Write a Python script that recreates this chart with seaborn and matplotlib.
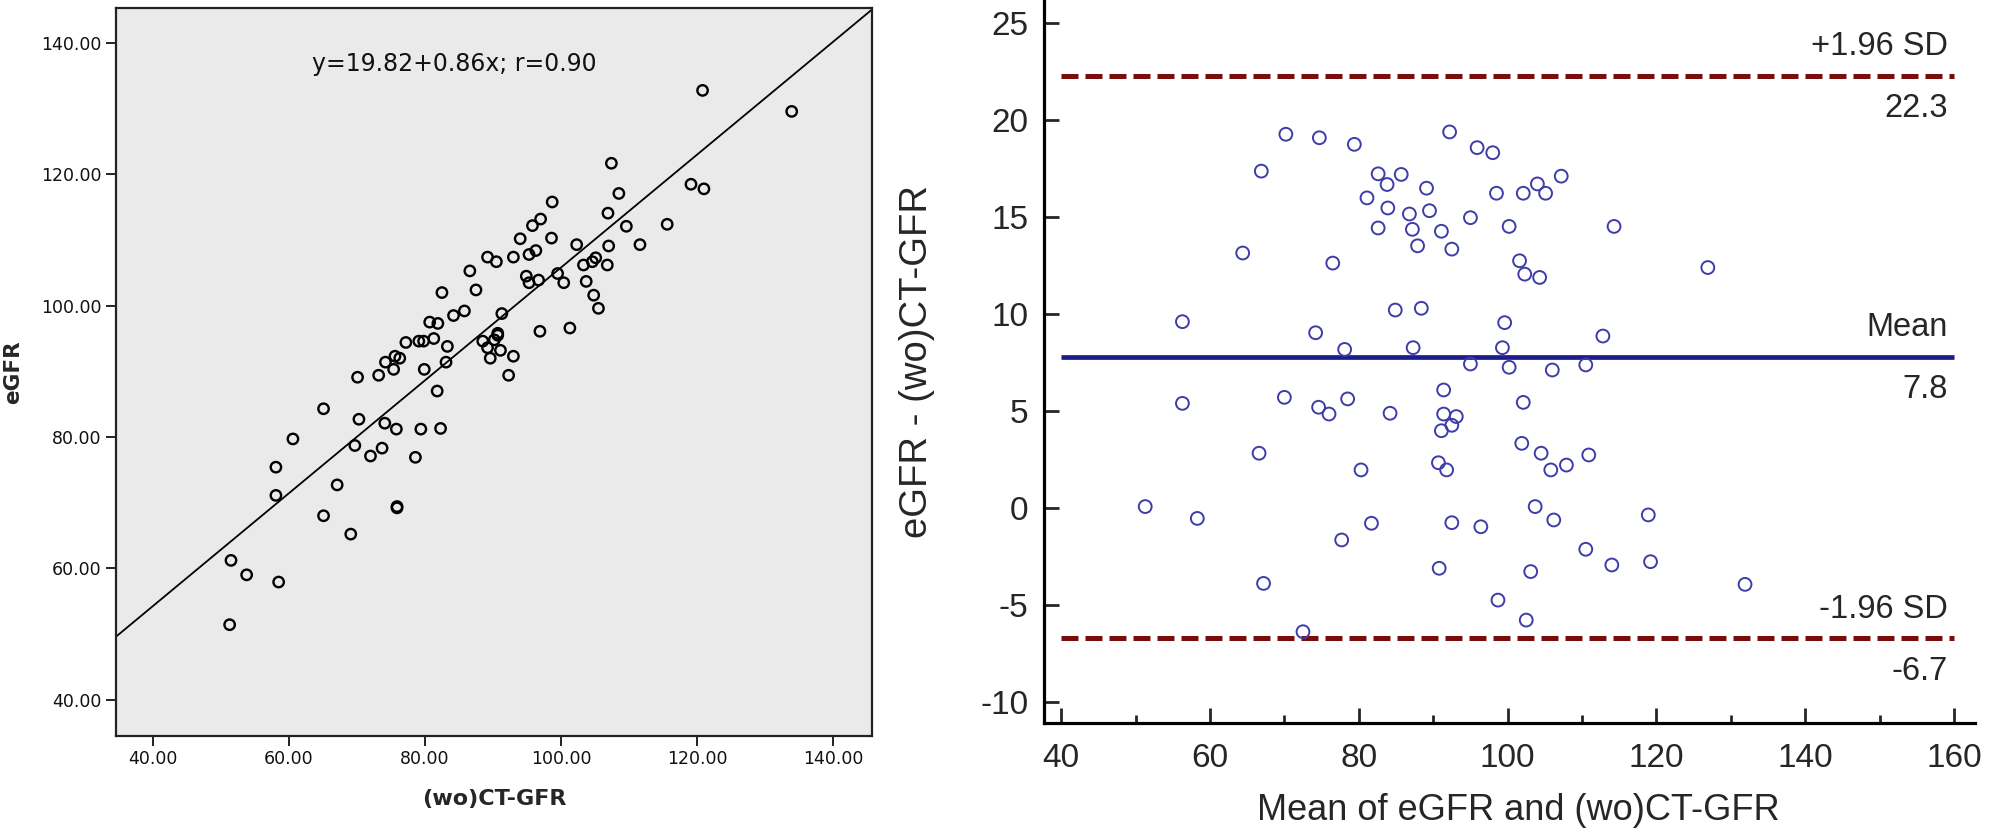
import numpy as np
import matplotlib
matplotlib.use("Agg")
import matplotlib.pyplot as plt
from matplotlib.ticker import FormatStrFormatter, MultipleLocator
import seaborn as sns

# left panel: (wo)CT-GFR vs eGFR
ct_gfr = [120.8, 133.9, 107.4, 119.1, 121.0, 108.5, 98.7, 106.9, 97.0, 95.8,
          115.6, 109.6, 94.0, 98.6, 102.3, 111.6, 107.0, 96.3, 95.3, 93.0,
          89.2, 90.5, 105.1, 104.6, 103.3, 106.8, 86.6, 99.5, 94.9, 103.7,
          95.3, 96.7, 100.4, 87.5, 82.5, 104.8, 105.5, 85.8, 84.2, 91.3,
          80.7, 81.9, 96.9, 101.3, 77.2, 79.1, 79.8, 81.3, 90.7, 90.7,
          88.5, 90.2, 83.3, 89.2, 91.1, 93.0, 75.6, 76.3, 74.2, 89.6,
          83.1, 75.4, 79.9, 73.2, 70.1, 92.3, 81.8,
          51.3, 51.5, 53.8, 58.5, 58.1, 58.1, 60.6, 65.1, 65.1, 67.1,
          69.1, 69.7, 70.3, 72.0, 73.7, 74.1, 75.8, 75.9, 75.9, 78.6,
          79.4, 82.3]
egfr = [132.8, 129.6, 121.7, 118.5, 117.8, 117.1, 115.8, 114.1, 113.2, 112.2,
        112.4, 112.1, 110.2, 110.3, 109.3, 109.3, 109.1, 108.4, 107.8, 107.4,
        107.4, 106.7, 107.3, 106.7, 106.2, 106.2, 105.3, 104.9, 104.5, 103.7,
        103.5, 103.9, 103.5, 102.4, 102.0, 101.6, 99.6, 99.2, 98.5, 98.8,
        97.5, 97.3, 96.1, 96.6, 94.4, 94.6, 94.6, 95.0, 95.8, 95.5,
        94.6, 94.8, 93.8, 93.6, 93.2, 92.3, 92.3, 92.0, 91.4, 92.0,
        91.4, 90.3, 90.3, 89.4, 89.1, 89.4, 87.0,
        51.4, 61.2, 59.0, 57.9, 71.1, 75.4, 79.7, 84.3, 68.0, 72.7,
        65.2, 78.7, 82.7, 77.1, 78.3, 82.1, 81.2, 69.4, 69.2, 76.9,
        81.2, 81.3]
intercept = 19.82
slope = 0.86
fit_text = "y=19.82+0.86x; r=0.90"

# right panel: Bland-Altman
ba_mean = [70.2, 74.7, 79.4, 92.2, 95.9, 98.0, 66.9, 82.6, 85.7, 83.8,
           89.1, 81.1, 83.9, 86.8, 89.5, 82.6, 87.2, 91.1, 87.9, 92.5,
           95.0, 98.5, 100.2, 102.1, 104.0, 105.1, 107.2, 114.3, 64.4, 76.5,
           101.6, 102.3, 104.3, 126.9, 56.3, 84.9, 88.4, 99.6, 74.2, 112.8,
           78.1, 87.3, 99.3,
           51.3, 56.3, 58.3, 66.6, 67.2, 70.0, 72.5, 74.6, 76.0, 77.7,
           78.5, 80.3, 81.7, 84.2, 90.7, 90.8, 91.1, 91.4, 91.4, 91.8,
           92.5, 93.1, 92.5, 95.0, 96.4, 98.7, 100.2, 101.9, 102.1, 102.5,
           103.1, 103.7, 104.5, 105.8, 106.0, 106.2, 107.9, 110.5, 110.5, 110.9,
           114.0, 118.9, 119.2, 131.9]
ba_diff = [19.28, 19.10, 18.76, 19.40, 18.59, 18.33, 17.38, 17.24, 17.21, 16.69,
           16.50, 16.00, 15.48, 15.17, 15.34, 14.45, 14.38, 14.28, 13.53, 13.36,
           14.98, 16.24, 14.53, 16.24, 16.72, 16.24, 17.12, 14.53, 13.16, 12.64,
           12.76, 12.07, 11.90, 12.41, 9.62, 10.22, 10.31, 9.57, 9.05, 8.88,
           8.19, 8.28, 8.28,
           0.09, 5.41, -0.52, 2.84, -3.87, 5.72, -6.36, 5.21, 4.86, -1.63,
           5.64, 1.98, -0.77, 4.90, 2.35, -3.09, 4.0, 6.1, 4.86, 1.98,
           4.28, 4.73, -0.74, 7.44, -0.95, -4.73, 7.27, 3.35, 5.46, -5.76,
           -3.26, 0.09, 2.84, 1.98, 7.13, -0.60, 2.23, -2.11, 7.39, 2.75,
           -2.92, -0.34, -2.75, -3.92]
mean_diff = 7.8
upper_loa = 22.3
lower_loa = -6.7
ref_lines = [(upper_loa, "+1.96 SD", "22.3"), (mean_diff, "Mean", "7.8"),
             (lower_loa, "-1.96 SD", "-6.7")]

sns.set_style("ticks")
plt.rcParams['font.family'] = ['DejaVu Sans']
plt.rcParams['axes.unicode_minus'] = False

fig = plt.figure(figsize=(20, 8.35), dpi=100)

# ---- left scatter ----
ax1 = fig.add_axes([0.058, 0.119, 0.378, 0.871])
ax1.set_facecolor('#eaeaea')
sns.scatterplot(x=ct_gfr, y=egfr, ax=ax1, s=56, facecolors='none',
                edgecolors='black', linewidths=1.7, zorder=3)
ax1.axline((0, intercept), slope=slope, color='black', lw=1.3, zorder=2)
ax1.set_xlim(34.6, 145.7)
ax1.set_ylim(34.5, 145.3)
ax1.set_xticks(range(40, 141, 20))
ax1.set_yticks(range(40, 141, 20))
ax1.xaxis.set_major_formatter(FormatStrFormatter('%.2f'))
ax1.yaxis.set_major_formatter(FormatStrFormatter('%.2f'))
ax1.tick_params(direction='out', length=7, width=1.3, labelsize=12.5, colors='#111111')
for sp in ax1.spines.values():
    sp.set_linewidth(1.6)
    sp.set_color('#222222')
ax1.text(0.447, 0.924, fit_text, transform=ax1.transAxes, ha='center', va='center',
         fontsize=17, color='#111111')
ax1.set_xlabel("(wo)CT-GFR", fontsize=16, fontweight='bold', va='top')
ax1.set_ylabel("eGFR", fontsize=15.5, fontweight='bold')
ax1.xaxis.set_label_coords(0.5, -0.074)
ax1.yaxis.set_label_coords(-0.123, 0.5)

# ---- right Bland-Altman ----
arial = ['Liberation Sans', 'DejaVu Sans']
ax2 = fig.add_axes([0.522, 0.134, 0.4655, 0.866])
sns.scatterplot(x=ba_mean, y=ba_diff, ax=ax2, s=85, facecolors='none',
                edgecolors='#3d3da8', linewidths=1.4, zorder=3)
for val, top_lab, bot_lab in ref_lines:
    if val == mean_diff:
        ax2.hlines(val, 40, 160, color='#1c1c8a', lw=3.4, zorder=2)
    else:
        ax2.hlines(val, 40, 160, color='#7a0c0c', lw=3.6,
                   linestyle=(0, (3.4, 1.4)), zorder=2)
    ax2.text(159.2, val + 1.5, top_lab, ha='right', va='center', fontsize=23.5, family=arial)
    ax2.text(159.2, val - 1.7, bot_lab, ha='right', va='center', fontsize=23.5, family=arial)

ax2.set_xlim(37.7, 162.8)
ax2.set_ylim(-11.07, 26.2)
ax2.xaxis.set_major_locator(MultipleLocator(20))
ax2.xaxis.set_minor_locator(MultipleLocator(10))
ax2.yaxis.set_major_locator(MultipleLocator(5))
ax2.set_xticks(range(40, 161, 20))
ax2.spines['top'].set_visible(False)
ax2.spines['right'].set_visible(False)
for side in ['left', 'bottom']:
    ax2.spines[side].set_linewidth(2.3)
    ax2.spines[side].set_color('black')
ax2.tick_params(which='major', direction='in', length=11, width=2, pad=14, labelsize=24)
ax2.tick_params(which='minor', direction='in', length=6, width=2)
ax2.tick_params(axis='y', pad=11)
for lab in ax2.get_xticklabels() + ax2.get_yticklabels():
    lab.set_family(arial)
ax2.set_xlabel("Mean of eGFR and (wo)CT-GFR", fontsize=26, family=arial, va='top')
ax2.set_ylabel("eGFR - (wo)CT-GFR", fontsize=27.5, family=arial)
ax2.xaxis.set_label_coords(0.51, -0.097)
ax2.yaxis.set_label_coords(-0.117, 0.5)

fig.savefig("out.png", dpi=100)
